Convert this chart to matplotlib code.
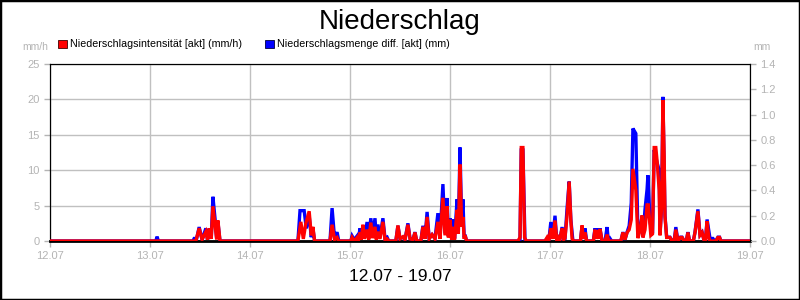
import matplotlib
matplotlib.use("Agg")
import matplotlib.pyplot as plt
from matplotlib.patches import Patch, Rectangle

plt.rcParams['font.family'] = ['Liberation Sans', 'DejaVu Sans']

# x axis: hours since 12.07 00:00
day_labels = ['12.07', '13.07', '14.07', '15.07', '16.07', '17.07', '18.07', '19.07']

# Niederschlagsintensitaet (mm/h), left axis: (hour, value)
rain = [
    (0, 0), (35.0, 0), (35.8, 1.8), (36.5, 0.2), (37.4, 1.3), (37.8, 0.2), (38.2, 1.8),
    (38.7, 0.3), (39.1, 4.9), (39.6, 2.3), (40.0, 0.2), (40.3, 2.9), (40.8, 0),
    (59.5, 0), (60.2, 2.7), (60.8, 0.3), (61.4, 2.5), (62.2, 4.2), (62.7, 0.8),
    (63.1, 2.0), (63.5, 0),
    (67.2, 0), (67.7, 2.3), (68.3, 0.2), (68.9, 0.5), (69.3, 0),
    (72.2, 0), (72.5, 0.5), (73.0, 0), (73.7, 0.5), (74.0, 0), (74.4, 1.2), (74.7, 0.2),
    (75.1, 2.3), (75.5, 0.3), (76.1, 1.6), (76.5, 0.2), (77.0, 2.6), (77.4, 0.4),
    (78.0, 2.0), (78.3, 0.2), (78.7, 1.3), (79.2, 0.3), (79.9, 2.7), (80.4, 0.2),
    (80.9, 0.3), (81.3, 0),
    (83.0, 0), (83.5, 2.2), (84.0, 0.3), (84.7, 0.6), (85.2, 0.2), (85.9, 2.3),
    (86.4, 0.3), (87.1, 0.2), (87.6, 1.2), (88.0, 0), (89.0, 0), (89.5, 2.0),
    (90.0, 0.3), (90.5, 3.4), (91.0, 0.3), (91.7, 0.9), (92.4, 0.3), (93.1, 2.7),
    (93.6, 0.3), (94.3, 6.1), (94.8, 0.8), (95.3, 4.9), (95.6, 0.5), (96.0, 3.0),
    (96.4, 0.2), (96.7, 2.0), (97.1, 0.2), (97.7, 4.4), (98.0, 1.0), (98.4, 10.8),
    (98.8, 2.0), (99.1, 3.4), (99.4, 0.3), (99.6, 0.8), (100.0, 0),
    (112.3, 0), (112.8, 0.5), (113.1, 13.2), (113.5, 13.2), (113.9, 0.5), (114.3, 0),
    (118.8, 0), (119.3, 0.5), (119.7, 0), (120.2, 1.8), (120.7, 0.3), (121.2, 2.9),
    (121.6, 0.2), (121.9, 0.5), (122.3, 0), (122.9, 1.8), (123.3, 0.2), (123.6, 0.4),
    (124.1, 3.6), (124.6, 8.4), (125.0, 3.0), (125.3, 0.3), (125.7, 0),
    (127.3, 0), (127.7, 2.2), (128.0, 0.3), (128.4, 1.2), (128.8, 0),
    (130.4, 0), (130.8, 1.6), (131.1, 0.3), (131.4, 1.5), (131.7, 0.3), (132.0, 1.7),
    (132.5, 0), (133.2, 0), (133.7, 0.9), (134.1, 0),
    (137.0, 0), (137.5, 1.2), (138.0, 0.2), (138.5, 1.2), (139.0, 1.6), (139.5, 3.0),
    (139.9, 10.2), (140.6, 7.2), (141.1, 0.4), (141.6, 1.5), (142.1, 3.6), (142.3, 0.5),
    (142.8, 1.6), (143.3, 5.1), (143.6, 5.1), (144.2, 0.8), (144.6, 1.0), (145.0, 13.2),
    (145.4, 13.2), (145.7, 11.3), (146.2, 7.2), (146.4, 0.8), (146.8, 5.0), (147.1, 19.9),
    (147.4, 12.0), (147.6, 3.4), (148.0, 0.5), (148.8, 0.5), (149.3, 0),
    (149.8, 0), (150.2, 1.6), (150.7, 0), (151.3, 0.5), (151.7, 0.5), (152.2, 0),
    (152.7, 0), (153.1, 1.2), (153.5, 0), (154.4, 0), (154.8, 1.2), (155.5, 4.2),
    (156.0, 0.8), (156.5, 1.2), (157.0, 0), (157.3, 0), (157.7, 2.8), (158.1, 0.5),
    (158.4, 0), (159.8, 0), (160.3, 0.5), (160.7, 0.5), (161.0, 0), (168, 0),
]

# Niederschlagsmenge diff. (mm), right axis: (hour, value)
amount = [
    (0, 0), (25.4, 0), (25.7, 0.035), (26.0, 0),
    (34.3, 0), (34.6, 0.02), (35.2, 0.02), (35.8, 0.11), (36.5, 0.01), (37.4, 0.10),
    (37.8, 0.01), (38.2, 0.09), (38.7, 0.02), (39.1, 0.35), (39.6, 0.18), (40.0, 0.02),
    (40.3, 0.15), (40.8, 0),
    (59.5, 0), (60.0, 0.24), (61.0, 0.24), (61.5, 0.10), (62.2, 0.20), (62.7, 0.03),
    (63.1, 0.10), (63.5, 0),
    (67.2, 0), (67.7, 0.26), (68.3, 0.02), (68.9, 0.07), (69.3, 0),
    (72.2, 0), (72.5, 0.04), (73.0, 0.01), (73.7, 0.04), (74.0, 0.01), (74.4, 0.10),
    (74.7, 0.02), (75.1, 0.12), (75.5, 0.03), (76.1, 0.15), (76.5, 0.03), (77.0, 0.18),
    (77.4, 0.04), (78.0, 0.18), (78.3, 0.03), (78.7, 0.13), (79.2, 0.03), (79.9, 0.18),
    (80.4, 0.02), (80.9, 0.03), (81.3, 0),
    (83.0, 0), (83.5, 0.12), (84.0, 0.02), (84.7, 0.03), (85.2, 0.01), (85.9, 0.14),
    (86.4, 0.02), (87.1, 0.01), (87.6, 0.07), (88.0, 0), (89.0, 0), (89.5, 0.12),
    (90.0, 0.02), (90.5, 0.23), (91.0, 0.02), (91.7, 0.05), (92.4, 0.02), (93.1, 0.22),
    (93.6, 0.03), (94.3, 0.45), (94.8, 0.06), (95.3, 0.34), (95.6, 0.04), (96.0, 0.18),
    (96.4, 0.02), (96.7, 0.17), (97.1, 0.02), (97.7, 0.33), (98.0, 0.08), (98.4, 0.74),
    (98.8, 0.15), (99.1, 0.33), (99.4, 0.03), (99.6, 0.05), (100.0, 0),
    (112.8, 0), (113.1, 0.72), (113.5, 0.72), (114.0, 0),
    (118.8, 0), (119.3, 0.02), (119.7, 0), (120.2, 0.15), (120.7, 0.03), (121.2, 0.20),
    (121.6, 0.02), (121.9, 0.03), (122.3, 0), (122.9, 0.11), (123.3, 0.02), (123.6, 0.02),
    (124.1, 0.26), (124.6, 0.47), (125.0, 0.17), (125.5, 0),
    (127.3, 0), (127.7, 0.12), (128.0, 0.02), (128.4, 0.10), (128.8, 0),
    (130.4, 0), (130.8, 0.10), (131.1, 0.02), (131.4, 0.10), (131.7, 0.02), (132.0, 0.10),
    (132.5, 0), (133.2, 0), (133.7, 0.11), (134.0, 0), (134.4, 0.02), (134.8, 0),
    (137.0, 0), (137.5, 0.07), (138.0, 0.01), (138.5, 0.07), (139.0, 0.12), (139.5, 0.30),
    (139.9, 0.89), (140.6, 0.85), (141.1, 0.05), (141.6, 0.09), (142.1, 0.20),
    (142.3, 0.03), (142.8, 0.25), (143.3, 0.41), (143.5, 0.52), (144.0, 0.15),
    (144.6, 0.06), (145.0, 0.72), (145.7, 0.62), (146.2, 0.56), (146.4, 0.05),
    (146.8, 0.28), (147.1, 1.14), (147.6, 0.20), (148.0, 0.03), (148.8, 0.03),
    (149.3, 0), (149.8, 0), (150.2, 0.11), (150.7, 0), (151.3, 0.03), (151.7, 0.03),
    (152.2, 0), (152.7, 0), (153.1, 0.07), (153.5, 0), (154.4, 0), (154.8, 0.07),
    (155.5, 0.25), (156.0, 0.05), (156.5, 0.07), (157.0, 0), (157.3, 0), (157.7, 0.17),
    (158.4, 0.02), (159.1, 0.02), (159.5, 0), (159.8, 0), (160.3, 0.03), (160.7, 0.03),
    (161.0, 0), (168, 0),
]

rain_t = [p[0] for p in rain]
rain_v = [p[1] for p in rain]
amount_t = [p[0] for p in amount]
amount_v = [p[1] for p in amount]

grey = '#b4b4b4'

fig = plt.figure(figsize=(8, 3), dpi=100)
fig.patches.append(Rectangle((0, 0), 1, 1, transform=fig.transFigure,
                             fill=False, edgecolor='black', linewidth=2.5))

ax = fig.add_axes([50 / 800, 59 / 300, 700 / 800, 177 / 300])
ax.set_xlim(0, 168)
ax.set_ylim(0, 25)
ax.set_xticks([24 * i for i in range(len(day_labels))])
ax.set_xticklabels(day_labels)
ax.set_yticks([0, 5, 10, 15, 20, 25])
ax.grid(True, color='#c0c0c0', linewidth=1)
ax.tick_params(colors=grey, labelcolor=grey, labelsize=8, length=4, width=1)
for s in ax.spines.values():
    s.set_color('black')
ax.spines['bottom'].set_linewidth(2)

# blue series on right axis
ax2 = ax.twinx()
ax2.set_ylim(0, 1.4)
ax2.set_yticks([0, 0.2, 0.4, 0.6, 0.8, 1.0, 1.2, 1.4])
ax2.set_yticklabels(['0.0', '0.2', '0.4', '0.6', '0.8', '1.0', '1.2', '1.4'])
ax2.tick_params(colors=grey, labelcolor=grey, labelsize=8, length=4, width=1)
ax2.plot(amount_t, amount_v, color='#0000ff', linewidth=2.4, solid_joinstyle='miter')

# red series on top, shares left scale
ax3 = ax.twinx()
ax3.set_ylim(0, 25)
ax3.axis('off')
ax3.plot(rain_t, rain_v, color='#ff0000', linewidth=2.4, solid_joinstyle='miter')

fig.text(0.5, 0.928, 'Niederschlag', ha='center', va='center', fontsize=20)
fig.text(0.5, 0.077, '12.07 - 19.07', ha='center', va='center', fontsize=12.5)
fig.text(35 / 800, 0.843, 'mm/h', ha='center', va='center', fontsize=7.5, color=grey)
fig.text(762 / 800, 0.843, 'mm', ha='center', va='center', fontsize=7.5, color=grey)

handles = [Patch(facecolor='#ff0000', edgecolor='#400000', linewidth=0.6,
                 label='Niederschlagsintensität [akt] (mm/h)'),
           Patch(facecolor='#0000ff', edgecolor='#000040', linewidth=0.6,
                 label='Niederschlagsmenge diff. [akt] (mm)')]
fig.legend(handles=handles, loc='center left', bbox_to_anchor=(58 / 800, 0.852),
           ncol=2, frameon=False, fontsize=7.7, handlelength=0.8, handleheight=0.8,
           handletextpad=0.3, columnspacing=2.2, borderaxespad=0, borderpad=0)

fig.savefig('out.png', dpi=100)
